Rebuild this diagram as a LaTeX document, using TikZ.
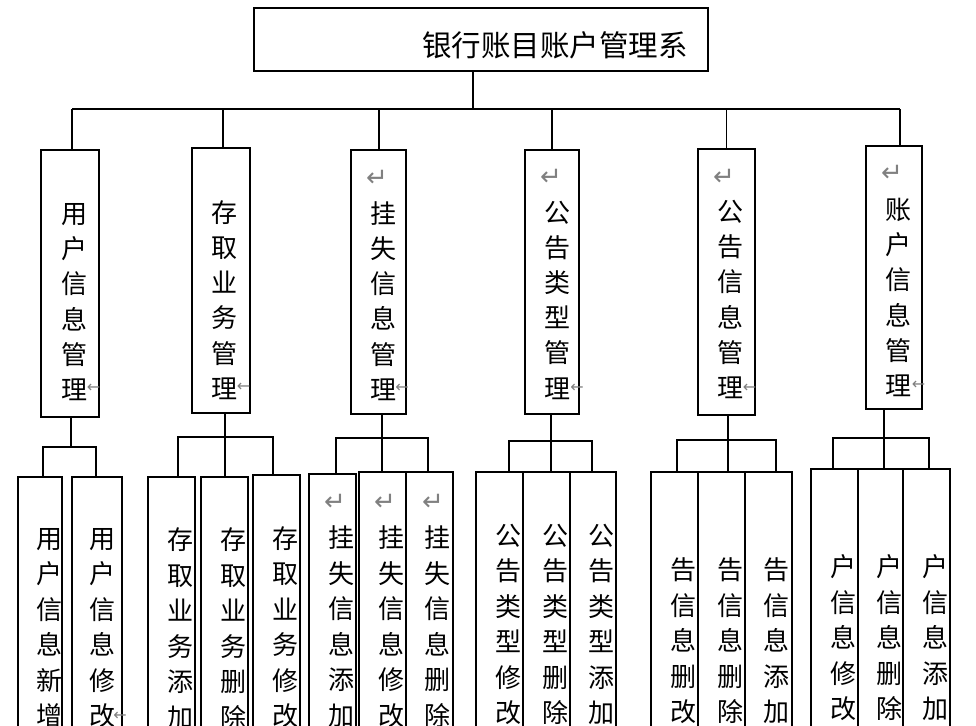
\documentclass[tikz,border=0pt]{standalone}
\usepackage{fontspec}
\newfontfamily\cjk{Noto Sans CJK SC}
\newfontfamily\symf{DejaVu Sans}
\begin{document}
\begin{tikzpicture}[x=1pt,y=-1pt,
  box/.style={draw,line width=1.5pt,inner sep=0pt,outer sep=0pt},
  ln/.style={line width=1.5pt},
  vt/.style={font=\cjk\fontsize{26}{35.2}\selectfont,align=center,inner sep=0pt,text=black},
  lt/.style={font=\cjk\fontsize{26}{35.5}\selectfont,align=center,inner sep=0pt,text=black},
  pm/.style={text=gray,font=\symf\fontsize{26}{26}\selectfont,inner sep=0pt},
  em/.style={text=gray,font=\symf\fontsize{16}{16}\selectfont,inner sep=0pt}]
\useasboundingbox (0,0) rectangle (976,725);
\clip (0,0) rectangle (976,725);

% ---------- top ----------
\node[box,minimum width=454pt,minimum height=63pt] (top) at (481,39.5) {};
\node[font=\cjk\fontsize{29.5}{30}\selectfont,inner sep=0pt] (title) at (555,45) {银行账目账户管理系};

% ---------- level 2 boxes ----------
\node[box,minimum width=58pt,minimum height=267pt] (b1) at (70,283.5) {};
\node[box,minimum width=58pt,minimum height=265pt] (b2) at (221,280.5) {};
\node[box,minimum width=55pt,minimum height=264pt] (b3) at (378.5,282) {};
\node[box,minimum width=54pt,minimum height=264pt] (b4) at (552,282) {};
\node[box,minimum width=57pt,minimum height=266pt] (b5) at (726.5,282) {};
\node[box,minimum width=56pt,minimum height=263pt] (b6) at (894,277.5) {};

\node[vt] (t1) at (74,302) {用\\户\\信\\息\\管\\理};
\node[vt] (t2) at (224,300) {存\\取\\业\\务\\管\\理};
\node[vt] (t3) at (383,301) {挂\\失\\信\\息\\管\\理};
\node[vt] (t4) at (557,300) {公\\告\\类\\型\\管\\理};
\node[vt] (t5) at (730,299.5) {公\\告\\信\\息\\管\\理};
\node[vt] (t6) at (898,297.5) {账\\户\\信\\息\\管\\理};

\node[pm] (p3) at (377,178) {↵};
\node[pm] (p4) at (551,177) {↵};
\node[pm] (p5) at (724,177) {↵};
\node[pm] (p6) at (892,173) {↵};

\node[em] (e1) at (93.5,388) {←};
\node[em] (e2) at (243.5,387) {←};
\node[em] (e3) at (402,388) {←};
\node[em] (e4) at (577,388) {←};
\node[em] (e5) at (749.5,388) {←};
\node[em] (e6) at (918.5,385) {←};

% ---------- level 1 connectors ----------
\coordinate (bar) at (473,109);
\draw[ln] (top.south -| bar) -- (bar);
\draw[ln] ([xshift=2pt]b1.north |- bar) -- ([xshift=6pt]b6.north |- bar);
\draw[ln] ([xshift=2pt]b1.north |- bar) -- ([xshift=2pt]b1.north);
\draw[ln] ([xshift=2pt]b2.north |- bar) -- ([xshift=2pt]b2.north);
\draw[ln] ([xshift=0.5pt]b3.north |- bar) -- ([xshift=0.5pt]b3.north);
\draw[ln] (b4.north |- bar) -- (b4.north);
\draw[ln] (b5.north |- bar) -- (b5.north);
\draw[ln] ([xshift=6pt]b6.north |- bar) -- ([xshift=6pt]b6.north);

% ---------- leaves ----------
% group 1
\node[box,minimum width=44pt,minimum height=300pt,anchor=north] (L11) at (40,477) {};
\node[box,minimum width=50pt,minimum height=300pt,anchor=north] (L12) at (97,477) {};
% group 2
\node[box,minimum width=47pt,minimum height=300pt,anchor=north] (L21) at (171.5,477) {};
\node[box,minimum width=47pt,minimum height=300pt,anchor=north] (L22) at (224.5,477) {};
\node[box,minimum width=47pt,minimum height=300pt,anchor=north] (L23) at (276.5,475) {};
% group 3
\node[box,minimum width=47pt,minimum height=300pt,anchor=north] (L31) at (332.5,474) {};
\node[box,minimum width=47pt,minimum height=300pt,anchor=north] (L32) at (382.5,472) {};
\node[box,minimum width=47pt,minimum height=300pt,anchor=north] (L33) at (429.5,472) {};
% group 4
\node[box,minimum width=47pt,minimum height=300pt,anchor=north] (L41) at (499.5,472) {};
\node[box,minimum width=47pt,minimum height=300pt,anchor=north] (L42) at (546.5,472) {};
\node[box,minimum width=46pt,minimum height=300pt,anchor=north] (L43) at (593,472) {};
% group 5
\node[box,minimum width=47pt,minimum height=300pt,anchor=north] (L51) at (674.5,472) {};
\node[box,minimum width=47pt,minimum height=300pt,anchor=north] (L52) at (721.5,472) {};
\node[box,minimum width=47pt,minimum height=300pt,anchor=north] (L53) at (768.5,472) {};
% group 6
\node[box,minimum width=47pt,minimum height=300pt,anchor=north] (L61) at (834.5,469) {};
\node[box,minimum width=45pt,minimum height=300pt,anchor=north] (L62) at (880.5,469) {};
\node[box,minimum width=47pt,minimum height=300pt,anchor=north] (L63) at (926.5,469) {};

% leaf texts
\node[lt] (s11) at (49,628) {用\\户\\信\\息\\新\\增};
\node[lt] (s12) at (102,628) {用\\户\\信\\息\\修\\改};
\node[lt] (s21) at (180,628.5) {存\\取\\业\\务\\添\\加};
\node[lt] (s22) at (233,628.5) {存\\取\\业\\务\\删\\除};
\node[lt] (s23) at (285,627) {存\\取\\业\\务\\修\\改};
\node[lt] (s31) at (341,626.5) {挂\\失\\信\\息\\添\\加};
\node[lt] (s32) at (391,626.5) {挂\\失\\信\\息\\修\\改};
\node[lt] (s33) at (437,626.5) {挂\\失\\信\\息\\删\\除};
\node[lt] (s41) at (508,624.5) {公\\告\\类\\型\\修\\改};
\node[lt] (s42) at (555,624.5) {公\\告\\类\\型\\删\\除};
\node[lt] (s43) at (601,624.5) {公\\告\\类\\型\\添\\加};
\node[lt] (s51) at (683,641) {告\\信\\息\\删\\改};
\node[lt] (s52) at (730,641) {告\\信\\息\\删\\除};
\node[lt] (s53) at (776,641) {告\\信\\息\\添\\加};
\node[lt] (s61) at (843,638) {户\\信\\息\\修\\改};
\node[lt] (s62) at (889,638) {户\\信\\息\\删\\除};
\node[lt] (s63) at (935,638) {户\\信\\息\\添\\加};

\node[pm] (q31) at (335,502) {↵};
\node[pm] (q32) at (385,502) {↵};
\node[pm] (q33) at (433,502) {↵};
\node[em] (f12) at (120,716) {←};

% ---------- level 2 connectors ----------
% group 1
\coordinate (h1) at (71,447);
\coordinate (d11) at (43,447);
\coordinate (d12) at (96,447);
\draw[ln] (b1.south -| h1) -- (h1);
\draw[ln] (d11 |- L11.north) -- (d11) -- (d12) -- (d12 |- L12.north);
% group 2
\coordinate (h2) at (225,437);
\coordinate (d21) at (178,437);
\coordinate (d23) at (273,437);
\draw[ln] (b2.south -| h2) -- (h2 |- L22.north);
\draw[ln] (d21 |- L21.north) -- (d21) -- (d23) -- (d23 |- L23.north);
% group 3
\coordinate (h3) at (382,438);
\coordinate (d31) at (336,438);
\coordinate (d33) at (428,438);
\draw[ln] (b3.south -| h3) -- (h3 |- L32.north);
\draw[ln] (d31 |- L31.north) -- (d31) -- (d33) -- (d33 |- L33.north);
% group 4
\coordinate (h4) at (551,441);
\coordinate (d41) at (509,441);
\coordinate (d43) at (592,441);
\draw[ln] (b4.south -| h4) -- (h4 |- L42.north);
\draw[ln] (d41 |- L41.north) -- (d41) -- (d43) -- (d43 |- L43.north);
% group 5
\coordinate (h5) at (728,440);
\coordinate (d51) at (677,440);
\coordinate (d53) at (776,440);
\draw[ln] (b5.south -| h5) -- (h5 |- L52.north);
\draw[ln] (d51 |- L51.north) -- (d51) -- (d53) -- (d53 |- L53.north);
% group 6
\coordinate (h6) at (884,438);
\coordinate (d61) at (833,438);
\coordinate (d63) at (929,438);
\draw[ln] (b6.south -| h6) -- (h6 |- L62.north);
\draw[ln] (d61 |- L61.north) -- (d61) -- (d63) -- (d63 |- L63.north);
\end{tikzpicture}
\end{document}
